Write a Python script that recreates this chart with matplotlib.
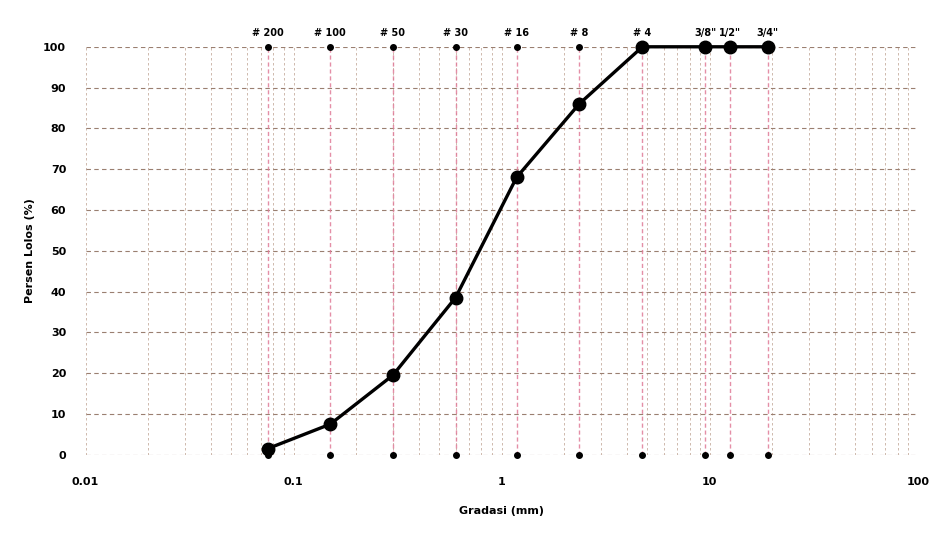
import matplotlib.pyplot as plt
import numpy as np

# sieve data
sieve_labels = ['# 200', '# 100', '# 50', '# 30', '# 16', '# 8', '# 4', '3/8"', '1/2"', '3/4"']
sieve_mm = [0.075, 0.15, 0.3, 0.6, 1.18, 2.36, 4.75, 9.5, 12.5, 19.0]
passing = [1.5, 7.5, 19.5, 38.5, 68, 86, 100, 100, 100, 100]

x_ticks = [0.01, 0.1, 1, 10, 100]
x_ticklabels = ['0.01', '0.1', '1', '10', '100']
y_ticks = list(range(0, 101, 10))

grid_col = '#b89a88'
sieve_col = '#e07c98'

fig = plt.figure(figsize=(9.51, 5.44), dpi=100)
ax = fig.add_axes([0.090, 0.164, 0.875, 0.750])

ax.set_xscale('log')
ax.set_xlim(0.01, 100)
ax.set_ylim(0, 100)

# log grid (minor lines between decades)
for dec in [0.01, 0.1, 1, 10]:
    for m in range(1, 10):
        ax.axvline(dec * m, color=grid_col, lw=0.6, ls=(0, (3, 3)), alpha=0.8, zorder=0)
ax.axvline(100, color=grid_col, lw=0.6, ls=(0, (3, 3)), alpha=0.8, zorder=0)
for y in y_ticks:
    ax.axhline(y, color='#9a7f70', lw=0.8, ls=(0, (4, 3)), zorder=0)

# sieve lines
for s in sieve_mm:
    ax.axvline(s, color=sieve_col, lw=1.0, ls=(0, (3, 2)), alpha=0.85, zorder=1)

# sieve markers on 0 and 100 lines
ax.scatter(sieve_mm, [0] * len(sieve_mm), s=16, color='black', zorder=3, clip_on=False)
ax.scatter(sieve_mm, [100] * len(sieve_mm), s=16, color='black', zorder=3, clip_on=False)

# gradation curve
ax.plot(sieve_mm, passing, color='black', lw=2.4, marker='o', markersize=9,
        zorder=4, clip_on=False)

for sp in ax.spines.values():
    sp.set_visible(False)

ax.set_xticks(x_ticks)
ax.set_xticklabels(x_ticklabels)
ax.xaxis.set_minor_locator(plt.NullLocator())
ax.set_yticks(y_ticks)
ax.tick_params(length=0, labelsize=8)
ax.tick_params(axis='x', pad=16)
ax.tick_params(axis='y', pad=14)
for lab in ax.get_xticklabels() + ax.get_yticklabels():
    lab.set_fontweight('bold')

top = ax.secondary_xaxis('top')
top.set_xticks(sieve_mm)
top.set_xticklabels(sieve_labels, fontsize=7, fontweight='bold')
top.xaxis.set_minor_locator(plt.NullLocator())
top.tick_params(length=0, pad=6)
for sp in top.spines.values():
    sp.set_visible(False)

ax.set_xlabel('Gradasi (mm)', fontsize=8, fontweight='bold', labelpad=14)
ax.set_ylabel('Persen Lolos (%)', fontsize=8, fontweight='bold', labelpad=6)

fig.savefig('out.png', dpi=100)
